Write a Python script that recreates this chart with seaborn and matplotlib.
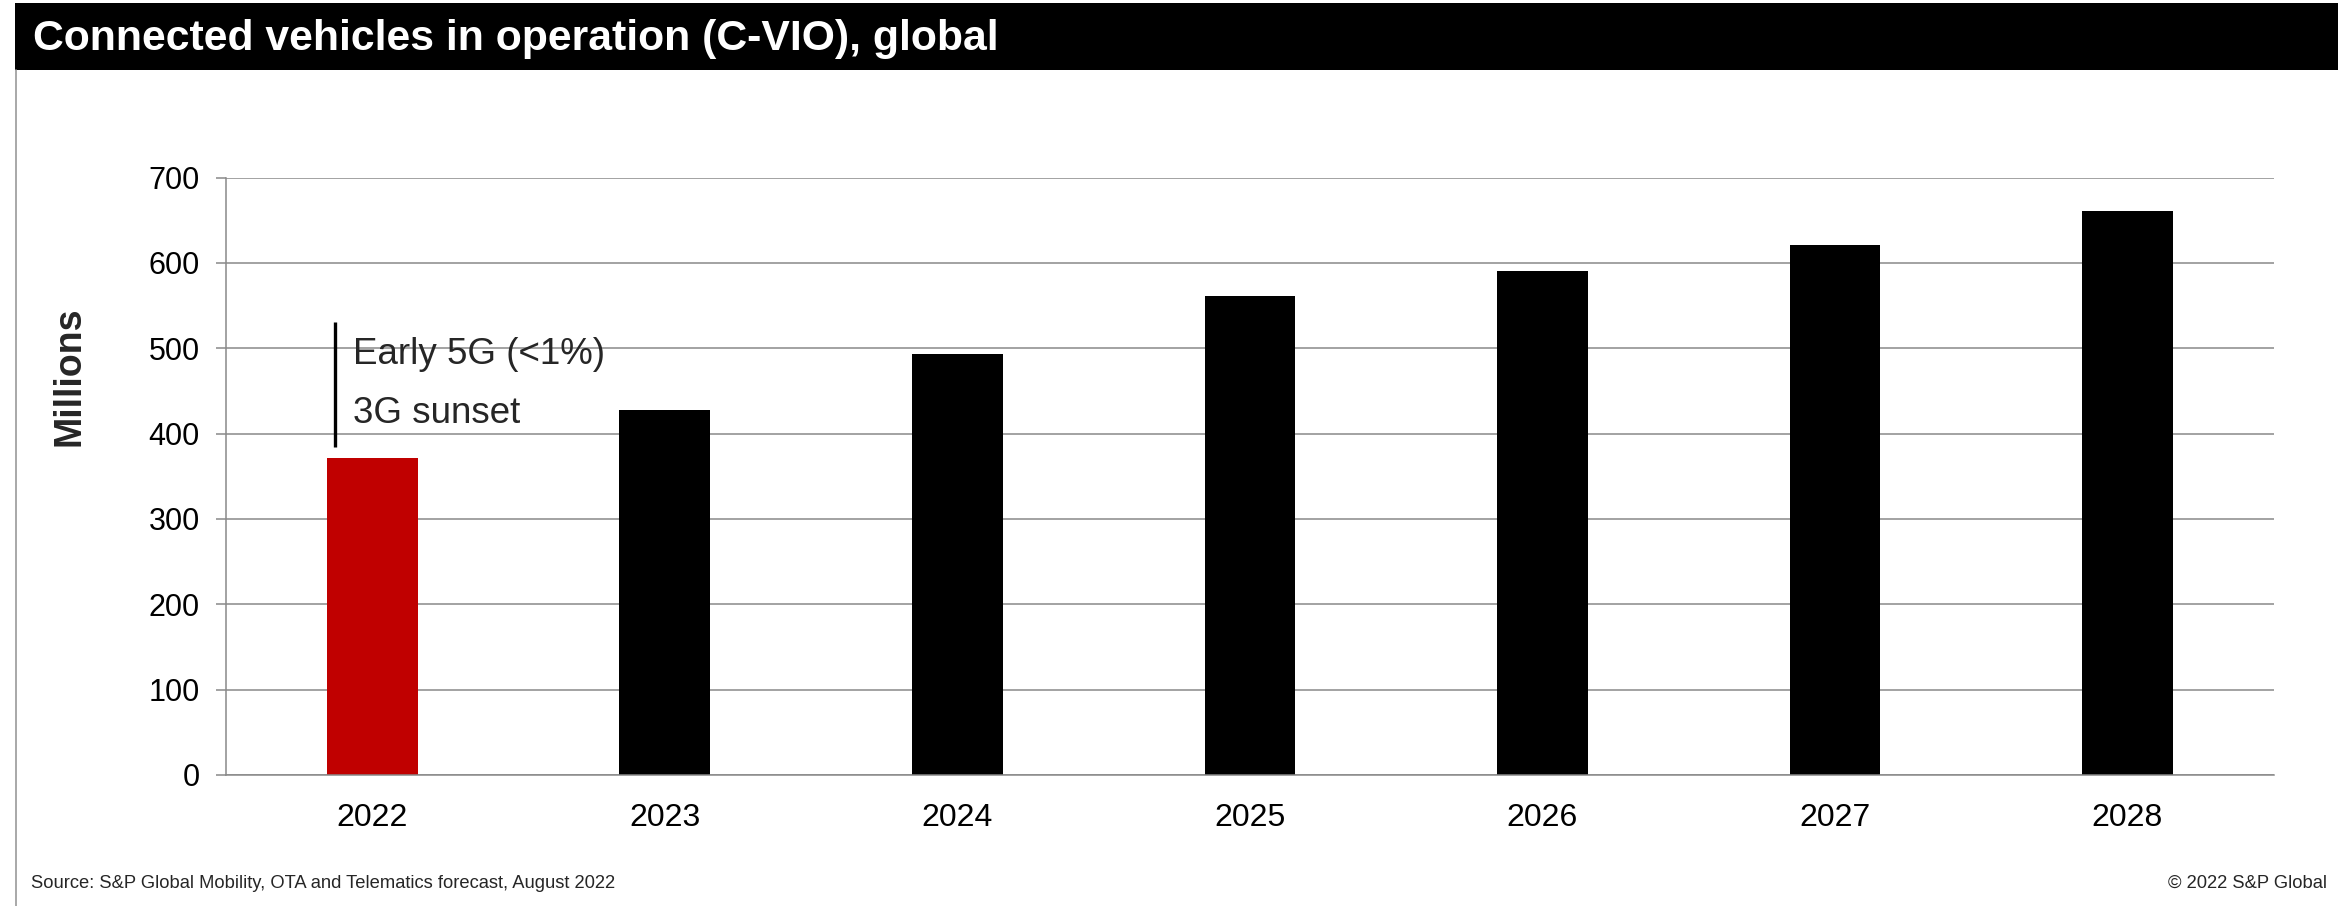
import matplotlib
matplotlib.use("Agg")
import matplotlib.pyplot as plt
from matplotlib.patches import Rectangle
from matplotlib.lines import Line2D
from matplotlib.ticker import FixedLocator
import seaborn as sns
import pandas as pd

# data (millions of connected vehicles)
years = ["2022", "2023", "2024", "2025", "2026", "2027", "2028"]
c_vio = [371, 428, 493, 561, 590, 621, 661]
bar_colors = ["#C00000", "#000000", "#000000", "#000000", "#000000", "#000000", "#000000"]

title = "Connected vehicles in operation (C-VIO), global"
y_label = "Millions"
note_top = "Early 5G (<1%)"
note_bottom = "3G sunset"
source = "Source: S&P Global Mobility, OTA and Telematics forecast, August 2022"
copyright_txt = "\u00a9 2022 S&P Global"

sns.set_style("white")
plt.rcParams["font.family"] = ["Liberation Sans", "DejaVu Sans"]

W, H = 2338, 906
fig = plt.figure(figsize=(W / 100, H / 100), dpi=100)
fig.patch.set_facecolor("white")

# black title band + thin frame line on the left
fig.patches.append(Rectangle((15 / W, 1 - 70 / H), 1, 67 / H, transform=fig.transFigure,
                             facecolor="black", edgecolor="none"))
fig.lines.append(Line2D([15.5 / W, 15.5 / W], [0, 1 - 70 / H], transform=fig.transFigure,
                        color="#9a9a9a", lw=1.2))
fig.text(33 / W, 1 - 39 / H, title, color="white", fontsize=30.8, fontweight="bold",
         va="center", ha="left")

ax = fig.add_axes([226 / W, 1 - 775 / H, (2273.7 - 226) / W, (775 - 177.5) / H])

df = pd.DataFrame({"year": years, "vio": c_vio})
sns.barplot(data=df, x="year", y="vio", hue="year", palette=bar_colors, saturation=1,
            width=0.31, legend=False, ax=ax, edgecolor="none")

grid_col = "#898989"
ax.set_ylim(0, 700)
ax.set_xlim(-0.5, len(years) - 0.5)
ax.set_yticks(range(0, 701, 100))
ax.yaxis.grid(True, color=grid_col, lw=1.1)
ax.xaxis.grid(False)
ax.set_axisbelow(True)

for s in ["top", "right"]:
    ax.spines[s].set_visible(False)
for s in ["left", "bottom"]:
    ax.spines[s].set_color(grid_col)
    ax.spines[s].set_linewidth(1.1)

ax.xaxis.set_minor_locator(FixedLocator([i - 0.5 for i in range(len(years) + 1)]))
ax.tick_params(axis="x", which="major", length=0, pad=20, labelsize=23, labelcolor="black")
ax.tick_params(axis="x", which="minor", length=7, width=1.1, color=grid_col, direction="out")
ax.tick_params(axis="y", which="major", length=7, width=1.1, color=grid_col, direction="out",
               pad=12, labelsize=22, labelcolor="black", left=True)
ax.set_xlabel("")
ax.set_ylabel("")

fig.text(69 / W, 1 - 376 / H, y_label, rotation=90, fontsize=27, fontweight="bold",
         ha="center", va="center")

# annotation above the 2022 bar
ax.vlines(-0.126, 384, 531, color="black", lw=2.4)
ax.text(-0.066, 482, note_top, fontsize=26.5, va="baseline", ha="left")
ax.text(-0.066, 412, note_bottom, fontsize=26.5, va="baseline", ha="left")

fig.text(31 / W, 1 - 883 / H, source, fontsize=13.2, va="center", ha="left")
fig.text(2327 / W, 1 - 883 / H, copyright_txt, fontsize=13.2, va="center", ha="right")

fig.savefig("out.png", dpi=100)
